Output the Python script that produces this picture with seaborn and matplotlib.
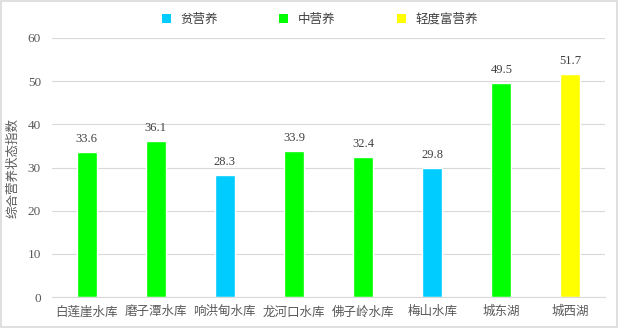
import matplotlib
matplotlib.use("Agg")
import matplotlib.pyplot as plt
import seaborn as sns
import pandas as pd
from matplotlib.patches import Patch, Rectangle

sites = ["白莲崖水库", "磨子潭水库", "响洪甸水库", "龙河口水库", "佛子岭水库", "梅山水库", "城东湖", "城西湖"]
values = [33.6, 36.1, 28.3, 33.9, 32.4, 29.8, 49.5, 51.7]
levels = ["中营养", "中营养", "贫营养", "中营养", "中营养", "贫营养", "中营养", "轻度富营养"]
level_order = ["贫营养", "中营养", "轻度富营养"]
colors = {"贫营养": "#00CCFF", "中营养": "#00FF00", "轻度富营养": "#FFFF00"}
yticks = [0, 10, 20, 30, 40, 50, 60]

sns.set_theme(style="white")
cjk = ["Noto Sans CJK SC", "DejaVu Sans"]
serif = ["Liberation Serif", "DejaVu Serif"]
plt.rcParams['font.family'] = cjk

df = pd.DataFrame({"site": sites, "value": values, "level": levels})

fig = plt.figure(figsize=(6.18, 3.28), dpi=100)
ax = fig.add_axes([52/618, 1 - 297/328, (605-52)/618, (297-38)/328])

sns.barplot(data=df, x="site", y="value", hue="level", hue_order=level_order,
            palette=colors, dodge=False, width=0.29, ax=ax, legend=False, saturation=1)

for c in ax.containers:
    labs = [f"{v:.1f}" if v == v and v > 0 else "" for v in c.datavalues]
    ax.bar_label(c, labels=labs, padding=5, fontsize=9, color="#404040", family=serif)

ax.set_ylim(0, 60)
ax.set_yticks(yticks)
ax.set_yticklabels([str(t) for t in yticks], family=serif, fontsize=9.5, color="#595959")
ax.set_xlim(-0.5, len(sites) - 0.5)
ax.tick_params(axis="x", labelsize=9, colors="#595959", length=0, pad=6)
ax.tick_params(axis="y", length=0, pad=8)
ax.set_xlabel("")
ax.set_ylabel("综合营养状态指数", fontsize=9, color="#595959", labelpad=6)
ax.yaxis.grid(True, color="#D9D9D9", linewidth=0.8)
ax.set_axisbelow(True)
for s in ["top", "right", "left"]:
    ax.spines[s].set_visible(False)
ax.spines["bottom"].set_color("#D9D9D9")
ax.spines["bottom"].set_linewidth(0.8)

handles = [Patch(facecolor=colors[l], edgecolor="none", label=l) for l in level_order]
fig.legend(handles=handles, loc="center", bbox_to_anchor=(320/618, 1 - 19/328), ncol=3,
           frameon=False, fontsize=9, handlelength=0.7, handleheight=0.7,
           columnspacing=4.9, handletextpad=0.8, labelcolor="#404040")

fig.patches.append(Rectangle((0.002, 0.003), 0.996, 0.994, transform=fig.transFigure,
                             fill=False, edgecolor="#D9D9D9", linewidth=1.2))

fig.savefig("out.png", dpi=100)
